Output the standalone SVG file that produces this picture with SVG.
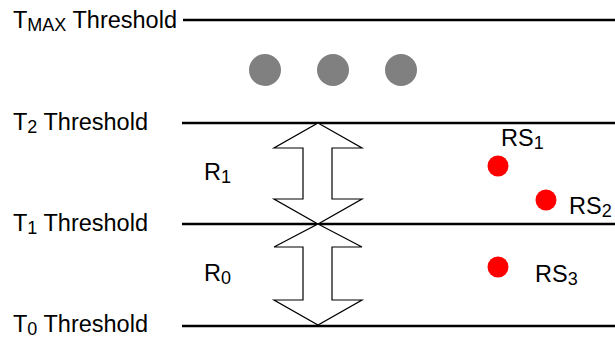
<svg xmlns="http://www.w3.org/2000/svg" width="615" height="338" viewBox="0 0 615 338">
<style>
text{font-family:"Liberation Sans",Arial,sans-serif;font-size:23.5px;fill:#000}
.sub{font-size:18px}
.th{stroke:#000;stroke-width:2.6;fill:none}
.arr{stroke:#000;stroke-width:1.2;fill:#fff;stroke-linejoin:miter}
.gd{fill:#808080}
.rd{fill:#ff0000}
</style>
<rect width="615" height="338" fill="#fff"/>
<g id="connectors">
<line class="th" x1="183" y1="20" x2="615" y2="20"/>
<line class="th" x1="182" y1="123" x2="615" y2="123"/>
<line class="th" x1="182" y1="224" x2="615" y2="224"/>
<line class="th" x1="182" y1="326" x2="615" y2="326"/>
</g>
<g id="label-tmax"><text x="13" y="28">T<tspan class="sub" dy="3">MAX</tspan><tspan dy="-3"> Threshold</tspan></text></g>
<g id="label-t2"><text x="13" y="130">T<tspan class="sub" dy="3">2</tspan><tspan dy="-3"> Threshold</tspan></text></g>
<g id="label-t1"><text x="13" y="231">T<tspan class="sub" dy="3">1</tspan><tspan dy="-3"> Threshold</tspan></text></g>
<g id="label-t0"><text x="13" y="332">T<tspan class="sub" dy="3">0</tspan><tspan dy="-3"> Threshold</tspan></text></g>
<g id="dots">
<circle class="gd" cx="265" cy="70" r="16"/>
<circle class="gd" cx="333" cy="70" r="16"/>
<circle class="gd" cx="401" cy="70" r="16"/>
</g>
<g id="arrow-r1"><polygon class="arr" points="318,123 362,148 332,148 332,199 362,199 318,224 274,199 303,199 303,148 274,148"/></g>
<g id="arrow-r0"><polygon class="arr" points="318,224 362,247 332,247 332,300 362,300 318,325 274,300 303,300 303,247 274,247"/></g>
<g id="label-r1"><text x="204" y="180">R<tspan class="sub" dy="3">1</tspan></text></g>
<g id="label-r0"><text x="204" y="281">R<tspan class="sub" dy="3">0</tspan></text></g>
<g id="rs1"><circle class="rd" cx="498" cy="166" r="10.5"/><text x="501" y="146">RS<tspan class="sub" dy="3">1</tspan></text></g>
<g id="rs2"><circle class="rd" cx="546" cy="200" r="10.5"/><text x="569" y="214">RS<tspan class="sub" dy="3">2</tspan></text></g>
<g id="rs3"><circle class="rd" cx="498" cy="267" r="10.5"/><text x="535" y="282">RS<tspan class="sub" dy="3">3</tspan></text></g>
</svg>
